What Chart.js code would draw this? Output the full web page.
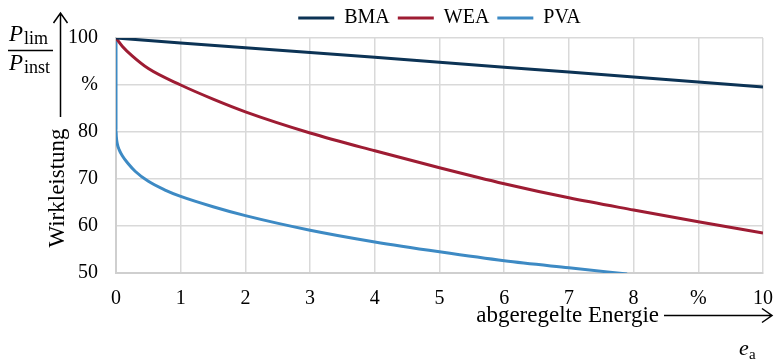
<!DOCTYPE html>
<html lang="de">
<head>
  <meta charset="UTF-8">
  <title>Wirkleistung über abgeregelte Energie</title>
  <script src="https://cdn.jsdelivr.net/npm/chart.js"></script>
  <style>
    body { margin: 0; background: #fff; }
    #wrap { width: 775px; height: 363px; }
  </style>
</head>
<body>

<div id="wrap">
  <canvas id="lineChart" width="775" height="363"></canvas>
</div>

<script>
  // abgeregelte Energie e_a in %
  const bmaX = [0, 2, 4, 6, 8, 10];
  const bmaY = [100, 97.9, 95.9, 93.8, 91.7, 89.6];

  const weaX = [0, 0.1, 0.25, 0.5, 1, 1.5, 2, 3, 4, 5, 6, 7, 8, 9, 10];
  const weaY = [100, 98.2, 96.2, 93.5, 90, 87, 84.3, 79.8, 76, 72.4, 69, 66, 63.4, 60.9, 58.5];

  const pvaX = [0, 0, 0.005, 0.02, 0.05, 0.1, 0.18, 0.3, 0.5, 0.75, 1, 1.5, 2, 3, 4, 5, 6, 7, 7.9];
  const pvaY = [100, 80.5, 79, 77.5, 76.2, 74.9, 73.4, 71.6, 69.5, 67.7, 66.3, 64.1, 62.2, 59.1, 56.6, 54.5, 52.6, 51.1, 49.8];

  const xTicks = ['0', '1', '2', '3', '4', '5', '6', '7', '8', '%', '10'];
  const yTicks = {50: '50', 60: '60', 70: '70', 80: '80', 90: '%', 100: '100'};

  const serif = "'Liberation Serif', 'Times New Roman', serif";

  function pts(xs, ys) {
    return xs.map((x, i) => ({x: x, y: ys[i]}));
  }

  // arrows, fraction and axis titles
  const annotations = {
    id: 'annotations',
    afterDraw(chart) {
      const c = chart.ctx;
      c.save();
      c.fillStyle = '#000';
      c.strokeStyle = '#000';
      c.textBaseline = 'alphabetic';

      // P_lim / P_inst
      c.font = 'italic 23px ' + serif;
      c.fillText('P', 9, 41);
      c.fillText('P', 9, 70);
      c.font = '18px ' + serif;
      c.fillText('lim', 24, 44);
      c.fillText('inst', 24, 73);
      c.lineWidth = 1.5;
      c.beginPath();
      c.moveTo(8, 50.5); c.lineTo(53, 50.5);
      c.stroke();

      // vertical arrow
      c.beginPath();
      c.moveTo(60.5, 117); c.lineTo(60.5, 13);
      c.moveTo(53.5, 23); c.lineTo(60.5, 13); c.lineTo(67.5, 23);
      c.stroke();

      // y title
      c.save();
      c.translate(64, 188);
      c.rotate(-Math.PI / 2);
      c.font = '23px ' + serif;
      c.textAlign = 'center';
      c.fillText('Wirkleistung', 0, 0);
      c.restore();

      // x title with arrow
      c.font = '23px ' + serif;
      c.textAlign = 'right';
      c.fillText('abgeregelte Energie', 659, 322);
      c.beginPath();
      c.moveTo(664, 315.5); c.lineTo(772, 315.5);
      c.moveTo(762, 308.5); c.lineTo(772, 315.5); c.lineTo(762, 322.5);
      c.stroke();

      c.textAlign = 'left';
      c.font = 'italic 22px ' + serif;
      c.fillText('e', 739, 355);
      c.font = '15px ' + serif;
      c.fillText('a', 749, 359);
      c.restore();
    }
  };

  const ctx = document.getElementById('lineChart').getContext('2d');
  const lineChart = new Chart(ctx, {
    type: 'line',
    data: {
      datasets: [
        {
          label: 'BMA',
          data: pts(bmaX, bmaY),
          borderColor: '#0c3355',
          backgroundColor: '#0c3355',
          borderWidth: 3,
          pointRadius: 0,
          tension: 0.3
        },
        {
          label: 'WEA',
          data: pts(weaX, weaY),
          borderColor: '#9e1c33',
          backgroundColor: '#9e1c33',
          borderWidth: 3,
          pointRadius: 0,
          cubicInterpolationMode: 'monotone'
        },
        {
          label: 'PVA',
          data: pts(pvaX, pvaY),
          borderColor: '#3d8ac4',
          backgroundColor: '#3d8ac4',
          borderWidth: 3,
          pointRadius: 0,
          cubicInterpolationMode: 'monotone'
        }
      ]
    },
    options: {
      responsive: false,
      animation: false,
      layout: { padding: { left: 0, right: 12, top: 0, bottom: 0 } },
      plugins: {
        legend: {
          position: 'top',
          fullSize: false,
          labels: {
            usePointStyle: true,
            pointStyle: 'line',
            pointStyleWidth: 36,
            color: '#000',
            padding: 8,
            font: { family: serif, size: 20 }
          }
        },
        tooltip: { enabled: false }
      },
      scales: {
        x: {
          type: 'linear',
          min: 0,
          max: 10,
          afterFit: s => { s.height = 90; s.paddingLeft = 0; s.paddingRight = 0; },
          grid: { color: '#d9d9d9', lineWidth: 1.5, drawTicks: false },
          border: { color: '#cfcfcf', width: 2 },
          ticks: {
            stepSize: 1,
            padding: 14,
            color: '#000',
            font: { family: serif, size: 20 },
            callback: v => xTicks[v]
          }
        },
        y: {
          min: 50,
          max: 100,
          afterFit: s => { s.width = 116; s.paddingTop = 0; s.paddingBottom = 0; },
          grid: { color: '#d9d9d9', lineWidth: 1.5, drawTicks: false },
          border: { color: '#cfcfcf', width: 2 },
          ticks: {
            stepSize: 10,
            padding: 18,
            color: '#000',
            font: { family: serif, size: 20 },
            callback: v => yTicks[v]
          }
        }
      }
    },
    plugins: [annotations]
  });
</script>

</body>
</html>
